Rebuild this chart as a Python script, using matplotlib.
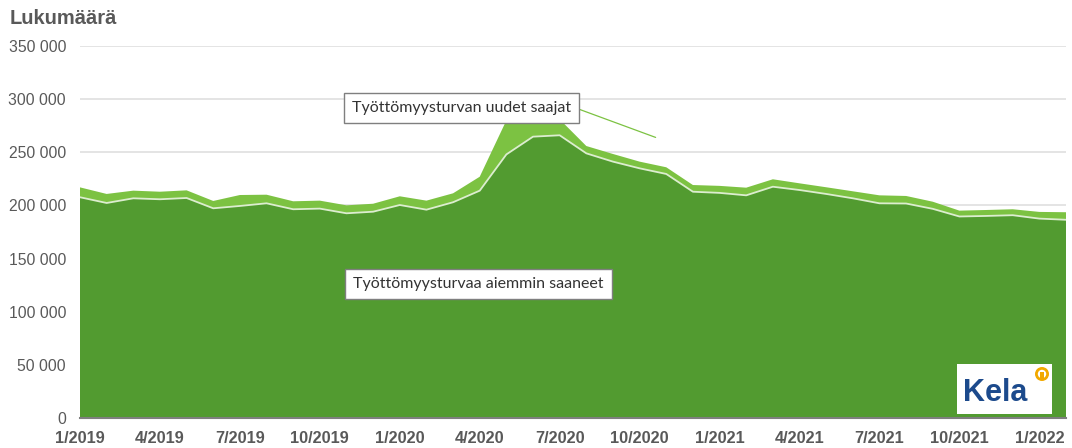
import numpy as np
import matplotlib.pyplot as plt
from matplotlib.patches import Circle, Rectangle

# monthly values 1/2019 - 2/2022
months = ["1/2019", "2/2019", "3/2019", "4/2019", "5/2019", "6/2019", "7/2019", "8/2019",
          "9/2019", "10/2019", "11/2019", "12/2019", "1/2020", "2/2020", "3/2020", "4/2020",
          "5/2020", "6/2020", "7/2020", "8/2020", "9/2020", "10/2020", "11/2020", "12/2020",
          "1/2021", "2/2021", "3/2021", "4/2021", "5/2021", "6/2021", "7/2021", "8/2021",
          "9/2021", "10/2021", "11/2021", "12/2021", "1/2022", "2/2022"]

aiemmin = [207700, 202300, 206700, 205800, 207000, 197300, 199500, 202000,
           196400, 197000, 192600, 194100, 200400, 196000, 203000, 213900,
           248000, 264700, 266000, 249000, 241200, 234900, 229600, 212900,
           211800, 209500, 217600, 214500, 210800, 206700, 202000, 201800,
           196800, 189600, 190100, 190800, 187600, 186500]

yhteensa = [217000, 210800, 213900, 212900, 214200, 204200, 209800, 210100,
            203900, 204500, 200100, 201600, 208600, 204500, 211400, 227000,
            280000, 290000, 281000, 255900, 248400, 241200, 235900, 219200,
            218400, 216700, 224600, 220800, 217100, 213300, 209500, 208900,
            203500, 195100, 195700, 196400, 193900, 193600]

uudet = [t - a for t, a in zip(yhteensa, aiemmin)]

tick_labels = months[::3]
yticks = [0, 50000, 100000, 150000, 200000, 250000, 300000, 350000]

dark = "#529b30"
light = "#7cc242"
grey = "#595959"

fig = plt.figure(figsize=(10.72, 4.48), dpi=100)
ax = fig.add_axes([80 / 1072, 1 - 418 / 448, (1066 - 80) / 1072, (418 - 46) / 448])

x = np.arange(len(months))
ax.stackplot(x, aiemmin, uudet, colors=[dark, light], linewidth=0, zorder=2)
ax.plot(x, aiemmin, color="#dcedcf", lw=1.3, zorder=3)

ax.set_xlim(0, len(months) - 1)
ax.set_ylim(0, 350000)
ax.set_yticks(yticks)
ax.set_yticklabels([f"{v:,}".replace(",", " ") for v in yticks],
                   fontsize=11.3, color=grey, family="Liberation Sans")
ax.set_xticks(x[::3])
ax.set_xticklabels(tick_labels, fontsize=11.7, color=grey, fontweight="bold",
                   family="Liberation Sans")
ax.tick_params(axis="y", length=0, pad=10)
ax.tick_params(axis="x", length=0, pad=9)
ax.grid(axis="y", color="#dfdfdf", lw=1.2, zorder=1)
ax.set_axisbelow(True)
for s in ["top", "right", "left"]:
    ax.spines[s].set_visible(False)
ax.spines["bottom"].set_color("#7f7f7f")
ax.spines["bottom"].set_linewidth(1.5)
ax.spines["bottom"].set_zorder(5)

fig.text(10 / 1072, 1 - 18 / 448, "Lukumäärä", fontsize=14.5, fontweight="bold",
         color=grey, family="Liberation Sans", va="center")

box = dict(boxstyle="square,pad=0.5", fc="white", ec="#7f7f7f", lw=1)
ax.annotate("Työttömyysturvan uudet saajat", xy=(21.6, 264000), xytext=(10.2, 292000),
            fontsize=11.5, color="#333333", family="Lato", va="center", ha="left",
            bbox=box, zorder=6,
            arrowprops=dict(arrowstyle="-", color=light, lw=0.9, shrinkA=0, shrinkB=0,
                            relpos=(1.0, 0.6)))
ax.text(10.25, 126500, "Työttömyysturvaa aiemmin saaneet", fontsize=11.5,
        color="#333333", family="Lato", va="center", ha="left", bbox=box, zorder=6)

# Kela logo
lax = fig.add_axes([957 / 1072, 1 - 414 / 448, 95 / 1072, 50 / 448])
lax.set_xlim(0, 95)
lax.set_ylim(0, 50)
lax.axis("off")
lax.add_patch(Rectangle((0, 0), 95, 50, fc="white", ec="none"))
lax.text(6, 21, "Kela", fontsize=22, fontweight="bold", color="#1c4a8c",
         family="Liberation Sans", va="center", ha="left")
lax.add_patch(Circle((85, 40), 7, fc="#f2a900", ec="none"))
lax.add_patch(Circle((85, 40), 4.2, fc="white", ec="none"))
lax.add_patch(Rectangle((83.4, 35.5), 3.2, 6.5, fc="#f2a900", ec="none"))

fig.savefig("out.png", dpi=100)
